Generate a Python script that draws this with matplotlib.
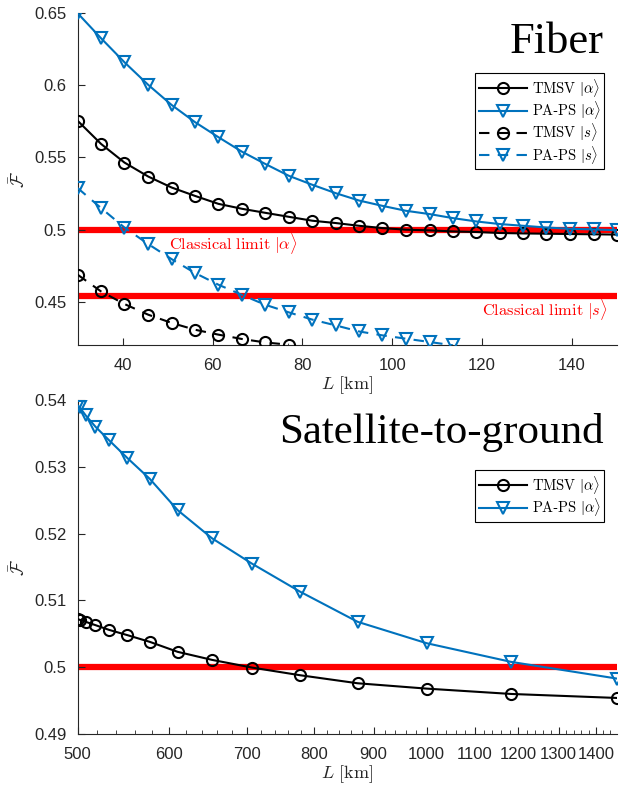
import numpy as np
import matplotlib
matplotlib.use("Agg")
import matplotlib.pyplot as plt
from matplotlib.ticker import FixedLocator, NullFormatter

plt.rcParams["mathtext.fontset"] = "cm"
plt.rcParams["font.family"] = ["Liberation Sans", "DejaVu Sans"]

# ---- fiber data ----
fiber_L = [30.0, 35.2, 40.4, 45.7, 50.9, 56.1, 61.3, 66.5, 71.7, 77.0, 82.2, 87.4,
           92.6, 97.8, 103.0, 108.3, 113.5, 118.7, 123.9, 129.1, 134.3, 139.6, 144.8, 150.0]
fiber_tmsv_a = [0.5753, 0.5593, 0.5464, 0.5367, 0.5291, 0.5233, 0.5178, 0.5144,
                0.5116, 0.5088, 0.5061, 0.5045, 0.5026, 0.5010, 0.4999, 0.4994,
                0.4987, 0.4983, 0.4976, 0.4973, 0.4971, 0.4969, 0.4967, 0.4965]
fiber_paps_a = [0.6498, 0.6325, 0.6159, 0.6002, 0.5863, 0.5744, 0.5640, 0.5540,
                0.5455, 0.5372, 0.5310, 0.5252, 0.5201, 0.5164, 0.5130, 0.5107,
                0.5079, 0.5056, 0.5038, 0.5026, 0.5014, 0.5005, 0.5001, 0.4995]
fiber_tmsv_s = [0.4687, 0.4571, 0.4484, 0.4410, 0.4353, 0.4306, 0.4272, 0.4242,
                0.4218, 0.4202]
fiber_paps_s = [0.5287, 0.5149, 0.5014, 0.4899, 0.4795, 0.4699, 0.4618, 0.4548,
                0.4479, 0.4426, 0.4376, 0.4336, 0.4294, 0.4267, 0.4244, 0.4221, 0.4198]
limit_a = 0.5
limit_s = 0.454

# ---- satellite data ----
sat_L = [500, 502, 508, 518, 532, 552, 577, 610, 653, 707, 778, 872, 1000, 1183, 1460]
sat_tmsv_a = [0.5072, 0.5071, 0.5068, 0.5063, 0.5056, 0.5048, 0.5038, 0.5023,
              0.5011, 0.49995, 0.4988, 0.4976, 0.4968, 0.4960, 0.4954]
sat_paps_a = [0.5392, 0.5389, 0.5377, 0.5360, 0.5340, 0.5313, 0.5282, 0.5235,
              0.5193, 0.5155, 0.5113, 0.5068, 0.5036, 0.5008, 0.4983]

blue = "#0072BD"
axcol = "#262626"
mk = dict(markersize=8, markeredgewidth=1.5, markerfacecolor="none", linewidth=1.5)

fig = plt.figure(figsize=(6.24, 7.87), dpi=100)
ax1 = fig.add_axes([0.1245, 0.5616, 0.8643, 0.4219])
ax2 = fig.add_axes([0.1245, 0.0673, 0.8643, 0.4244])

# top panel
ax1.axhline(limit_a, color="red", linewidth=4.5, zorder=1)
ax1.axhline(limit_s, color="red", linewidth=4.5, zorder=1)
n_ts = len(fiber_tmsv_s)
n_ps = len(fiber_paps_s)
ax1.plot(fiber_L, fiber_tmsv_a, "-o", color="black", label=r"$\mathrm{TMSV}\ |\alpha\rangle$", zorder=3, **mk)
ax1.plot(fiber_L, fiber_paps_a, "-v", color=blue, label=r"$\mathrm{PA}$-$\mathrm{PS}\ |\alpha\rangle$", zorder=3, **mk)
ax1.plot(fiber_L[:n_ts], fiber_tmsv_s, "--o", color="black", label=r"$\mathrm{TMSV}\ |s\rangle$",
         dashes=(5, 4), zorder=3, **mk)
ax1.plot(fiber_L[:n_ps], fiber_paps_s, "--v", color=blue, label=r"$\mathrm{PA}$-$\mathrm{PS}\ |s\rangle$",
         dashes=(5, 4), zorder=3, **mk)
ax1.set_xlim(30, 150)
ax1.set_ylim(0.42, 0.65)
ax1.set_xticks([40, 60, 80, 100, 120, 140])
ax1.set_yticks([0.45, 0.5, 0.55, 0.6, 0.65])
ax1.set_yticklabels(["0.45", "0.5", "0.55", "0.6", "0.65"])
ax1.text(50.3, 0.4905, r"$\mathrm{Classical\ limit}\ |\alpha\rangle$", color="red",
         fontsize=11.8, ha="left", va="center")
ax1.text(120.0, 0.4445, r"$\mathrm{Classical\ limit}\ |s\rangle$", color="red",
         fontsize=11.8, ha="left", va="center")

# bottom panel
ax2.axhline(limit_a, color="red", linewidth=4.5, zorder=1)
ax2.plot(sat_L, sat_tmsv_a, "-o", color="black", label=r"$\mathrm{TMSV}\ |\alpha\rangle$", zorder=3, **mk)
ax2.plot(sat_L, sat_paps_a, "-v", color=blue, label=r"$\mathrm{PA}$-$\mathrm{PS}\ |\alpha\rangle$", zorder=3, **mk)
ax2.set_xscale("log")
ax2.set_xlim(500, 1460)
ax2.set_ylim(0.49, 0.54)
major = [500, 600, 700, 800, 900, 1000, 1100, 1200, 1300, 1400]
ax2.xaxis.set_major_locator(FixedLocator(major))
ax2.set_xticklabels([str(v) for v in major])
minor = [v for v in range(520, 1460, 20) if v % 100 != 0]
ax2.xaxis.set_minor_locator(FixedLocator(minor))
ax2.xaxis.set_minor_formatter(NullFormatter())
ax2.set_yticks([0.49, 0.5, 0.51, 0.52, 0.53, 0.54])
ax2.set_yticklabels(["0.49", "0.5", "0.51", "0.52", "0.53", "0.54"])

for ax in (ax1, ax2):
    for s in ("top", "right"):
        ax.spines[s].set_visible(False)
    for s in ("left", "bottom"):
        ax.spines[s].set_color(axcol)
        ax.spines[s].set_linewidth(0.8)
    ax.tick_params(direction="in", length=5, width=0.8, colors=axcol, labelsize=12)
    ax.tick_params(axis="x", pad=9)
    ax.tick_params(axis="y", pad=8)
    ax.tick_params(which="minor", direction="in", length=3, width=0.6, colors=axcol)
    ax.set_xlabel(r"$L\ [\mathrm{km}]$", fontsize=13, color=axcol, labelpad=1)
    ax.set_ylabel(r"$\bar{\mathcal{F}}$", fontsize=13, color=axcol, labelpad=4)

leg_kw = dict(loc="upper right", fontsize=10.5, frameon=True, fancybox=False,
              edgecolor="black", framealpha=1, handlelength=3.3, handletextpad=0.3,
              labelspacing=0.02, borderpad=0.25, borderaxespad=0)
l1 = ax1.legend(bbox_to_anchor=(604 / 624, 1 - 73 / 787), bbox_transform=fig.transFigure, **leg_kw)
l2 = ax2.legend(bbox_to_anchor=(604 / 624, 1 - 470 / 787), bbox_transform=fig.transFigure, **leg_kw)
for l in (l1, l2):
    l.get_frame().set_linewidth(0.8)

fig.text(604 / 624, 1 - 53 / 787, "Fiber", family="Liberation Serif", fontsize=32,
         ha="right", va="baseline")
fig.text(604 / 624, 1 - 443 / 787, "Satellite-to-ground", family="Liberation Serif",
         fontsize=31, ha="right", va="baseline")

fig.savefig("out.png", dpi=100)
